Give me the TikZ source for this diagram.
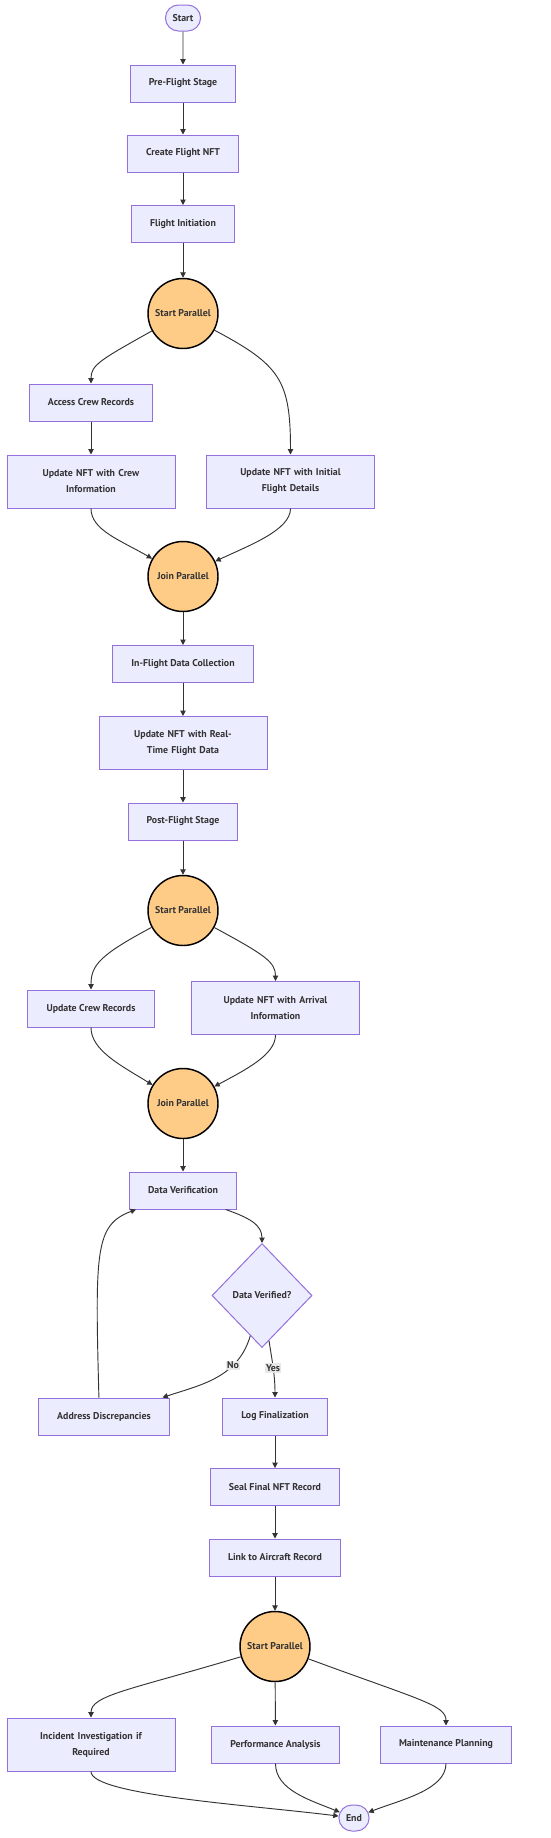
\documentclass[tikz,border=0pt]{standalone}
\usepackage{fontspec}
\setmainfont{PT Sans}
\usetikzlibrary{
  arrows.meta,
  positioning,
  shapes.geometric,
  shapes.misc
}
\definecolor{boxfill}{HTML}{ECECFF}
\definecolor{boxline}{HTML}{9370DB}
\definecolor{forkfill}{HTML}{FFCC88}
\definecolor{inkgray}{HTML}{333333}
\definecolor{lblfill}{HTML}{E8E8E8}

\begin{document}
\begin{tikzpicture}[
      x=0.75pt, y=-0.75pt,
      >={Triangle[length=4pt,width=4pt]},
      every node/.style={font=\fontsize{7.4}{12}\selectfont\bfseries, text=inkgray},
      stepbox/.style={draw=boxline, fill=boxfill, line width=0.75pt,
                      minimum height=27.75pt, inner xsep=14pt, align=center},
      twobox/.style={stepbox, text width=98pt, minimum height=39.75pt},
      term/.style={rounded rectangle, draw=boxline, fill=boxfill, line width=0.75pt,
                   minimum height=19.5pt, inner xsep=5pt},
      fork/.style={circle, draw=black, fill=forkfill, line width=1.1pt,
                   minimum size=52.5pt, inner sep=0pt},
      ask/.style={diamond, draw=boxline, fill=boxfill, line width=0.75pt,
                  minimum width=75pt, minimum height=78pt, inner sep=0pt},
      arr/.style={->, inkgray, line width=0.7pt},
      lbl/.style={fill=lblfill, inner sep=1pt}
  ]
      \fill[white] (0,0) rectangle (550,1838);
      \useasboundingbox (0,0) rectangle (550,1838);

      % Pre-flight
      \node[term]    (start)  at (183,18)      {Start};
      \node[stepbox] (pre)    at (183,83.5)    {Pre-Flight Stage};
      \node[stepbox] (cnft)   at (183,153.5)   {Create Flight NFT};
      \node[stepbox] (init)   at (183,224)     {Flight Initiation};
      \node[fork]    (sp1)    at (183,313.5)   {Start Parallel};
      \node[stepbox] (crew)   at (91,402.5)    {Access Crew Records};
      \node[twobox]  (upcrew) at (91,481.5)    {Update NFT with Crew\\Information};
      \node[twobox]  (upinit) at (290.5,481.5) {Update NFT with Initial\\Flight Details};
      \node[fork]    (jp1)    at (183,576.5)   {Join Parallel};

      % In-flight and post-flight
      \node[stepbox] (infl)   at (183,664)     {In-Flight Data Collection};
      \node[twobox]  (uprt)   at (183,743)     {Update NFT with Real-\\Time Flight Data};
      \node[stepbox] (post)   at (183,821.5)   {Post-Flight Stage};
      \node[fork]    (sp2)    at (183,910.5)   {Start Parallel};
      \node[stepbox] (ucrew)  at (91,1008.5)   {Update Crew Records};
      \node[twobox]  (uparr)  at (275.5,1008)  {Update NFT with Arrival\\Information};
      \node[fork]    (jp2)    at (183,1103.5)  {Join Parallel};

      % Verification
      \node[stepbox] (verif)  at (183,1190.5)  {Data Verification};
      \node[ask]     (dq)     at (262,1295.5)  {Data Verified?};
      \node[stepbox] (discr)  at (104,1416.5)  {Address Discrepancies};
      \node[stepbox] (logf)   at (275,1416.5)  {Log Finalization};
      \node[stepbox] (seal)   at (275,1487)    {Seal Final NFT Record};
      \node[stepbox] (link)   at (275,1557.5)  {Link to Aircraft Record};
      \node[fork]    (sp3)    at (275,1646.5)  {Start Parallel};
      \node[twobox]  (incid)  at (91,1744.5)   {Incident Investigation if\\Required};
      \node[stepbox] (perf)   at (275.5,1744.5){Performance Analysis};
      \node[stepbox] (maint)  at (446,1744.5)  {Maintenance Planning};
      \node[term]    (fin)    at (354,1818)    {End};

      % Straight links
      \draw[arr] (start) -- (pre);
      \draw[arr] (pre)   -- (cnft);
      \draw[arr] (cnft)  -- (init);
      \draw[arr] (init)  -- (sp1);
      \draw[arr] (crew)  -- (upcrew);
      \draw[arr] (jp1)   -- (infl);
      \draw[arr] (infl)  -- (uprt);
      \draw[arr] (uprt)  -- (post);
      \draw[arr] (post)  -- (sp2);
      \draw[arr] (jp2)   -- (verif);
      \draw[arr] (logf)  -- (seal);
      \draw[arr] (seal)  -- (link);
      \draw[arr] (link)  -- (sp3);
      \draw[arr] (sp3)   -- (perf);

      % Curved links
      \draw[arr] (sp1) .. controls (100,360) and (91,365) .. (crew);
      \draw[arr] (sp1) .. controls (280,365) and (290.5,380) .. (upinit);
      \draw[arr] (upcrew) .. controls (91,530) and (120,540) .. (jp1);
      \draw[arr] (upinit) .. controls (290.5,530) and (250,545) .. (jp1);
      \draw[arr] (sp2) .. controls (100,955) and (91,965) .. (ucrew);
      \draw[arr] (sp2) .. controls (265,955) and (275.5,962) .. (uparr);
      \draw[arr] (ucrew) .. controls (91,1050) and (120,1065) .. (jp2);
      \draw[arr] (uparr) .. controls (275.5,1055) and (245,1070) .. (jp2);
      \draw[arr] (verif.-24) .. controls (250,1218) and (262,1225) .. (dq);
      \draw[arr] (dq) .. controls (238,1378) and (200,1385) .. (discr.18)
          node[lbl, pos=0.3] {No};
      \draw[arr] (dq) .. controls (272,1360) and (275,1375) .. (logf)
          node[lbl, pos=0.5] {Yes};
      \draw[arr] (discr.105) .. controls (95,1250) and (95,1225) .. (verif.-158);
      \draw[arr] (sp3) .. controls (130,1690) and (91,1695) .. (incid);
      \draw[arr] (sp3) .. controls (420,1700) and (446,1705) .. (maint);
      \draw[arr] (incid) .. controls (91,1795) and (250,1805) .. (fin);
      \draw[arr] (perf) .. controls (275.5,1790) and (310,1800) .. (fin);
      \draw[arr] (maint) .. controls (446,1790) and (400,1800) .. (fin);
  \end{tikzpicture}
\end{document}
